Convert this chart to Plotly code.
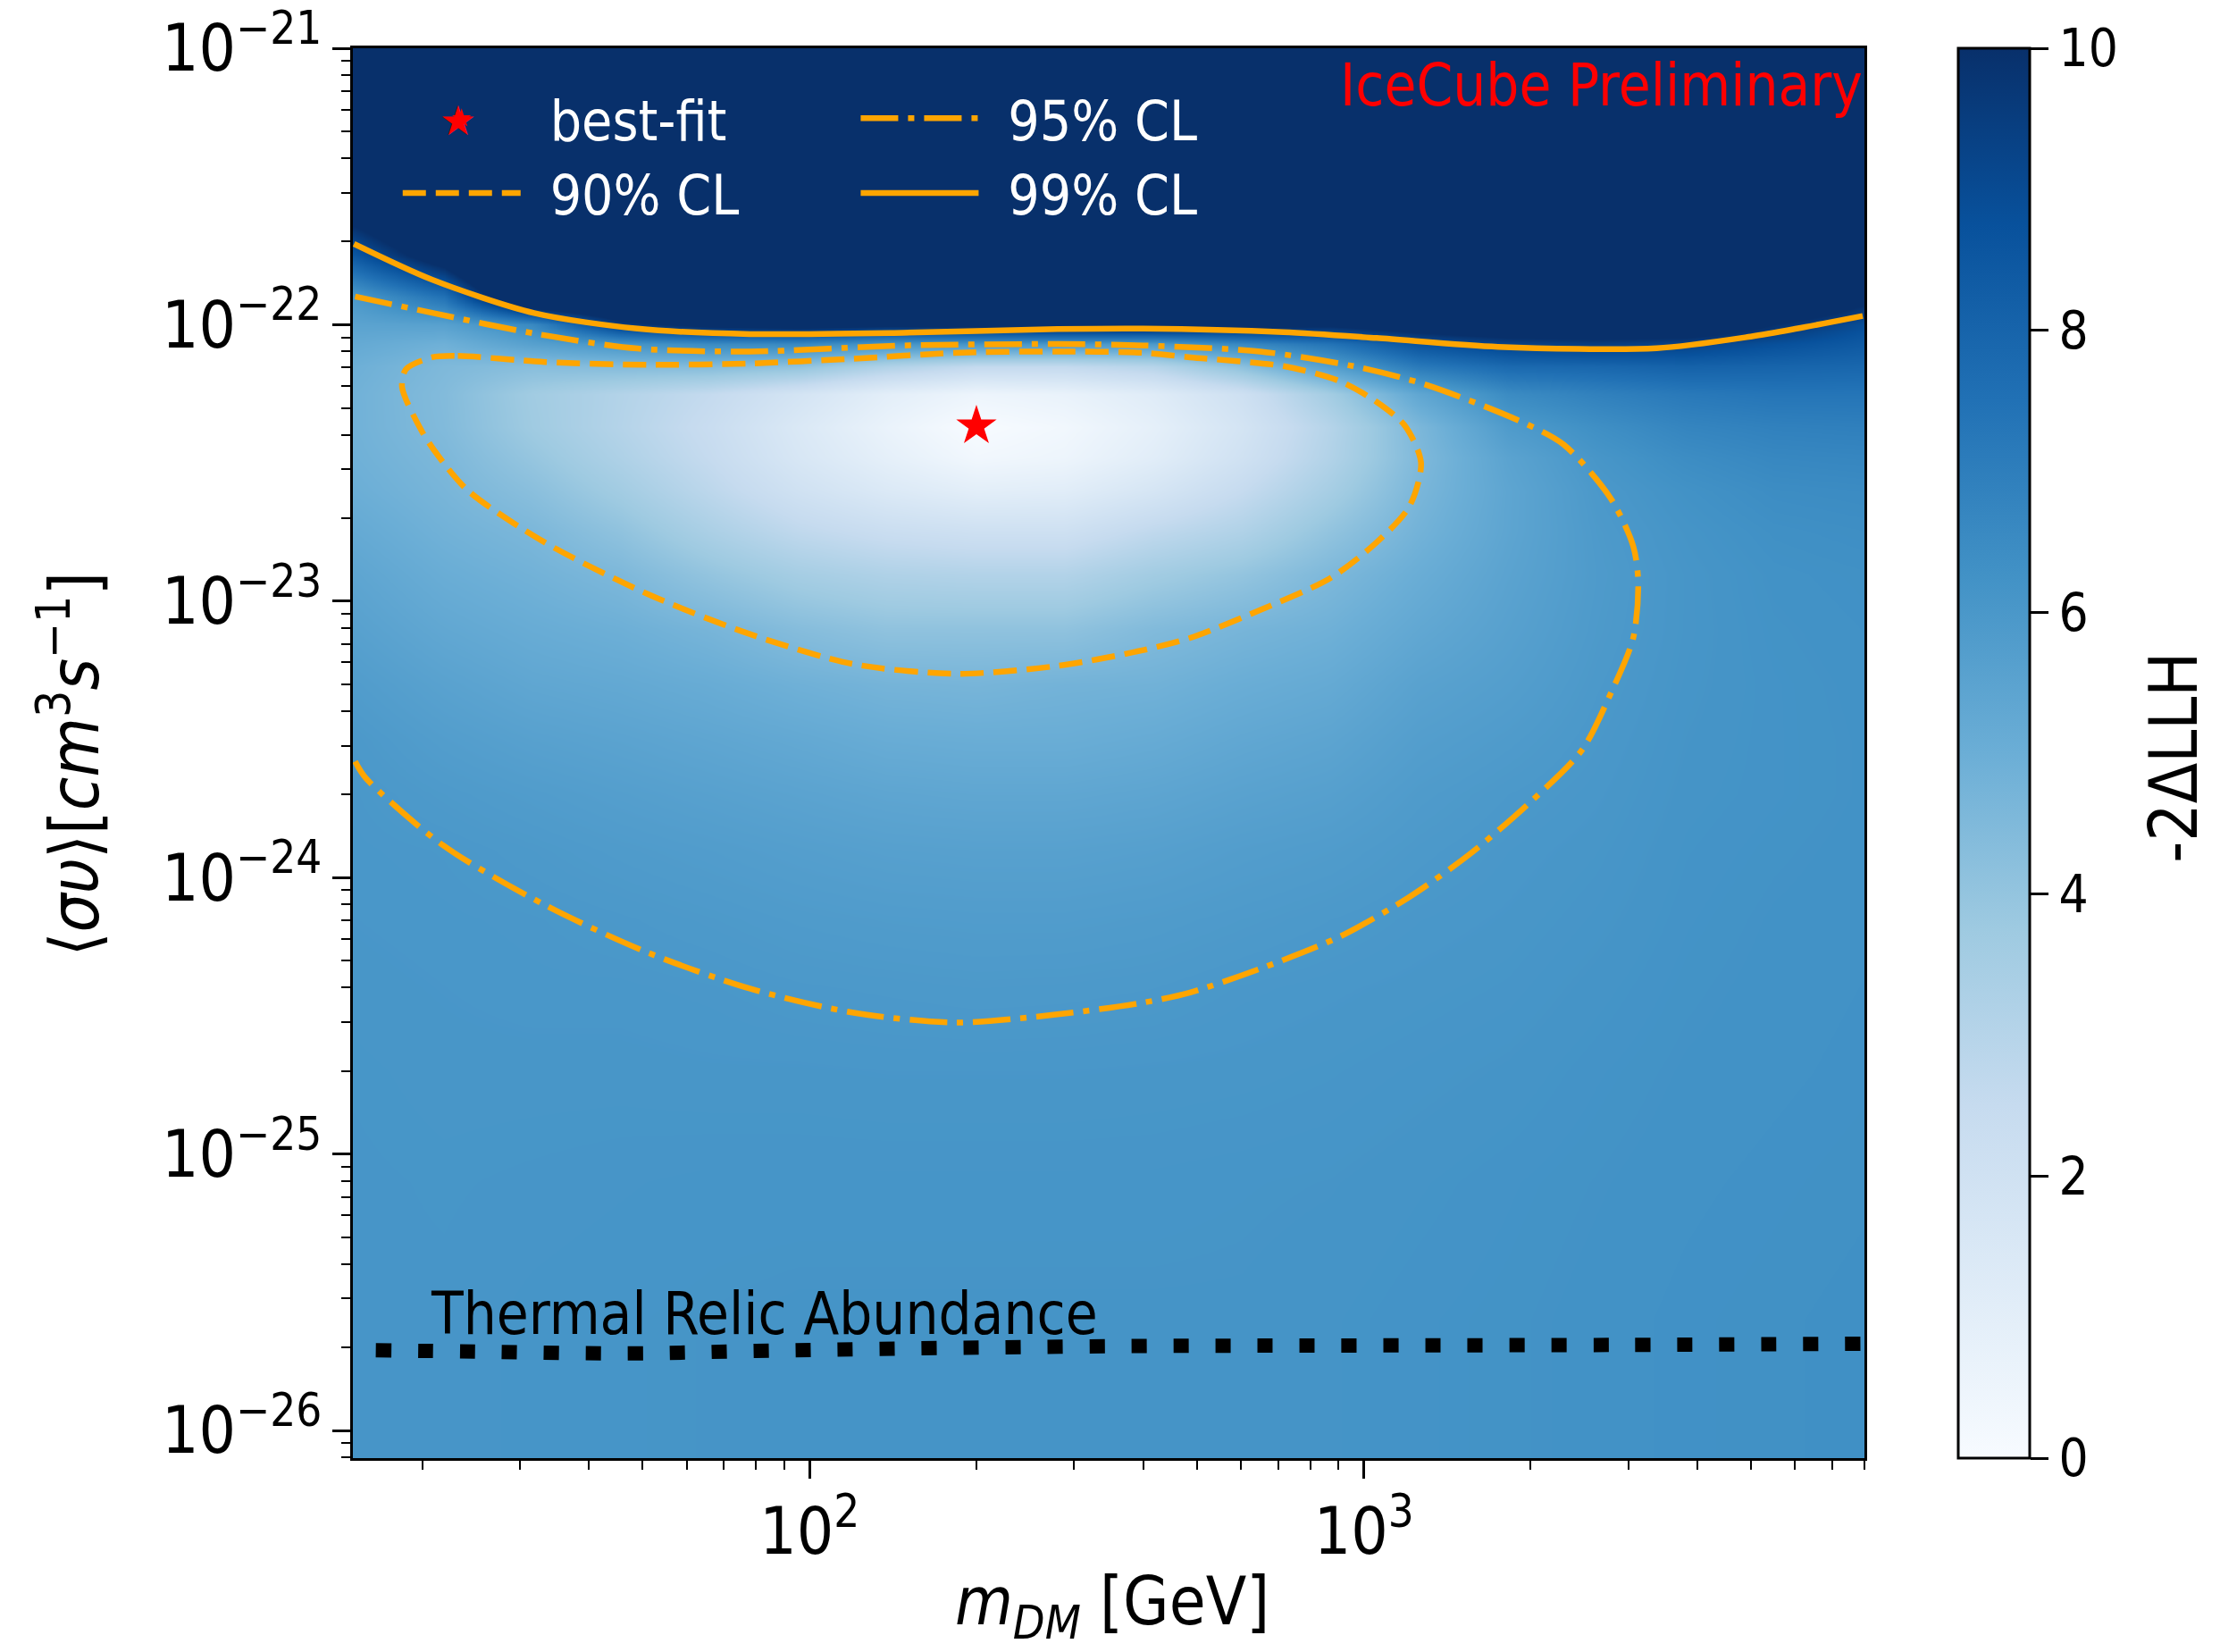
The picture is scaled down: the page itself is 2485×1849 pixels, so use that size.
import numpy as np
import plotly.graph_objects as go

mass_grid = [15.1, 21.9, 31.6, 45.7, 66.1, 95.5, 138, 200, 288, 417, 603, 871,
             1259, 1820, 2630, 3802, 5495, 7943]
xsec_grid = [7.94e-27, 2.51e-26, 7.94e-26, 2.0e-25, 3.98e-25, 7.08e-25, 1.26e-24,
             2.0e-24, 3.16e-24, 5.01e-24, 7.94e-24, 1.26e-23, 1.78e-23, 2.51e-23,
             3.31e-23, 4.27e-23, 5.62e-23, 7.08e-23, 8.51e-23, 1.0e-22, 1.26e-22,
             1.78e-22, 3.16e-22, 1.0e-21]

# one list per mass column, values from lowest to highest cross-section
llh_columns = [
    [6.10, 6.10, 6.10, 6.09, 6.07, 6.05, 6.03, 6.01, 5.95, 5.80, 5.60, 5.40, 5.20, 5.00, 4.90, 4.85, 4.85, 4.95, 5.20, 5.50, 5.98, 8.5, 12, 20],
    [6.10, 6.10, 6.09, 6.07, 6.05, 6.03, 6.00, 5.90, 5.75, 5.55, 5.30, 5.05, 4.85, 4.68, 4.57, 4.45, 4.42, 4.52, 4.90, 5.60, 7.50, 11, 14, 20],
    [6.12, 6.12, 6.10, 6.07, 6.03, 6.01, 5.93, 5.80, 5.60, 5.35, 5.10, 4.83, 4.60, 4.25, 3.95, 3.70, 3.65, 4.30, 5.60, 6.60, 12.5, 15, 18, 22],
    [6.13, 6.13, 6.11, 6.07, 6.03, 5.97, 5.85, 5.70, 5.50, 5.25, 4.95, 4.55, 4.10, 3.60, 3.25, 3.05, 3.10, 4.40, 6.10, 9.60, 13, 16, 19, 24],
    [6.14, 6.14, 6.12, 6.06, 6.01, 5.92, 5.78, 5.60, 5.38, 5.10, 4.70, 4.00, 3.35, 2.80, 2.50, 2.35, 2.55, 4.40, 6.50, 10.5, 13, 16, 19, 24],
    [6.15, 6.15, 6.12, 6.06, 5.97, 5.86, 5.70, 5.50, 5.25, 4.90, 4.35, 3.50, 2.70, 2.00, 1.60, 1.45, 1.80, 4.10, 6.60, 10.8, 13, 16, 20, 25],
    [6.15, 6.15, 6.12, 6.05, 5.95, 5.82, 5.63, 5.40, 5.10, 4.75, 4.10, 3.20, 2.30, 1.40, 0.90, 0.65, 1.00, 3.20, 6.10, 10.4, 13, 16, 20, 25],
    [6.15, 6.15, 6.12, 6.05, 5.93, 5.80, 5.60, 5.35, 5.05, 4.70, 4.10, 3.10, 2.10, 1.00, 0.30, 0.00, 0.50, 2.60, 6.10, 10.5, 13, 16, 20, 25],
    [6.15, 6.15, 6.12, 6.05, 5.94, 5.80, 5.60, 5.35, 5.05, 4.80, 4.10, 3.10, 2.10, 1.10, 0.50, 0.30, 0.70, 2.60, 6.00, 10.8, 13, 16, 20, 25],
    [6.15, 6.15, 6.12, 6.06, 5.96, 5.84, 5.65, 5.42, 5.15, 4.85, 4.45, 3.60, 2.70, 1.70, 1.10, 0.90, 1.20, 3.00, 5.90, 10.9, 13, 16, 20, 25],
    [6.15, 6.15, 6.13, 6.07, 6.01, 5.90, 5.75, 5.55, 5.32, 5.05, 4.70, 4.00, 3.20, 2.50, 2.00, 1.80, 2.10, 4.20, 6.60, 10.6, 13, 16, 20, 25],
    [6.17, 6.17, 6.14, 6.09, 6.04, 5.96, 5.82, 5.65, 5.45, 5.20, 4.90, 4.55, 4.05, 3.50, 3.15, 3.05, 3.60, 5.70, 7.40, 10.3, 13, 16, 20, 25],
    [6.20, 6.20, 6.17, 6.12, 6.07, 6.02, 5.94, 5.85, 5.72, 5.55, 5.30, 5.05, 4.82, 4.64, 4.52, 4.60, 5.35, 7.20, 8.70, 11.0, 13, 16, 20, 25],
    [6.22, 6.22, 6.20, 6.15, 6.10, 6.06, 6.02, 5.96, 5.85, 5.72, 5.60, 5.50, 5.42, 5.40, 5.50, 5.85, 6.50, 7.80, 9.30, 11.5, 13, 16, 20, 25],
    [6.25, 6.25, 6.23, 6.20, 6.16, 6.12, 6.08, 6.04, 6.00, 5.95, 5.90, 5.87, 5.90, 5.96, 6.08, 6.35, 6.90, 7.90, 9.50, 11.5, 13, 16, 20, 25],
    [6.28, 6.28, 6.26, 6.24, 6.22, 6.20, 6.18, 6.16, 6.14, 6.12, 6.10, 6.10, 6.15, 6.25, 6.45, 6.75, 7.20, 8.10, 9.30, 11.5, 13, 16, 20, 25],
    [6.30, 6.30, 6.28, 6.26, 6.25, 6.24, 6.22, 6.20, 6.20, 6.20, 6.22, 6.25, 6.32, 6.45, 6.65, 6.90, 7.35, 8.00, 8.80, 10.0, 12.5, 15, 19, 24],
    [6.32, 6.32, 6.30, 6.28, 6.27, 6.26, 6.25, 6.24, 6.24, 6.25, 6.27, 6.30, 6.38, 6.50, 6.70, 6.95, 7.35, 7.90, 8.40, 8.90, 10.5, 13, 18, 24],
]

# ---------------- confidence-level contours ----------------
cl90_mass = [20.84, 23.2, 33.3, 51.1, 78.0, 119.4, 183, 280, 400, 486, 716, 904, 1054, 1186,
             1268, 1208, 1054, 869, 650, 486, 400, 280, 183, 119.4, 78.0, 51.1, 33.3, 24.2,
             21.3, 20.0, 18.4, 18.7, 20.84]
cl90_xsec = [7.62e-23, 7.71e-23, 7.33e-23, 7.16e-23, 7.24e-23, 7.53e-23, 7.91e-23, 8.00e-23,
             7.91e-23, 7.62e-23, 7.08e-23, 6.25e-23, 5.26e-23, 4.31e-23, 3.17e-23, 2.20e-23,
             1.63e-23, 1.21e-23, 9.29e-24, 7.36e-24, 6.65e-24, 5.83e-24, 5.46e-24, 5.93e-24,
             7.60e-24, 1.06e-23, 1.63e-23, 2.51e-23, 3.39e-23, 4.10e-23, 5.94e-23, 6.90e-23,
             7.62e-23]

cl95_mass = [15.14, 20.84, 31.9, 48.9, 78.0, 147.9, 280, 400, 650, 957, 1282, 1888, 2291,
             2786, 3062, 3126, 3062, 2786, 2477, 2005, 1556, 1208, 904, 650, 486, 400, 280,
             183, 119.4, 78.0, 51.1, 33.3, 21.8, 15.8, 15.14]
cl95_xsec = [1.265e-22, 1.104e-22, 9.29e-23, 8.20e-23, 8.00e-23, 8.41e-23, 8.51e-23, 8.41e-23,
             8.00e-23, 7.08e-23, 6.10e-23, 4.53e-23, 3.69e-23, 2.36e-23, 1.58e-23, 1.17e-23,
             7.36e-24, 4.62e-24, 2.90e-24, 1.89e-24, 1.22e-24, 8.51e-25, 6.11e-25, 4.68e-25,
             3.84e-25, 3.53e-25, 3.20e-25, 2.99e-25, 3.25e-25, 3.97e-25, 5.35e-25, 7.96e-25,
             1.31e-24, 2.30e-24, 2.63e-24]

cl99_mass = [15.07, 20.84, 31.84, 48.9, 78.0, 147.6, 280, 400, 716, 1054, 1746, 3373, 4989,
             6039, 7943]
cl99_xsec = [1.96e-22, 1.455e-22, 1.102e-22, 9.68e-23, 9.25e-23, 9.35e-23, 9.64e-23, 9.68e-23,
             9.40e-23, 8.95e-23, 8.32e-23, 8.22e-23, 9.06e-23, 9.68e-23, 1.076e-22]

bestfit_mass = [200]
bestfit_xsec = [4.3e-23]

relic_mass = [16.5, 25, 47, 80, 150, 384, 1000, 3000, 8000]
relic_xsec = [1.95e-26, 1.93e-26, 1.90e-26, 1.94e-26, 1.98e-26, 2.02e-26, 2.03e-26, 2.04e-26, 2.06e-26]

cbar_ticks = [0, 2, 4, 6, 8, 10]

# ---------------- styling ----------------
FONT = "DejaVu Sans Condensed, DejaVu Sans, sans-serif"
ORANGE = "rgb(255,165,0)"
blues = ["rgb(247,251,255)", "rgb(222,235,247)", "rgb(198,219,239)", "rgb(158,202,225)",
         "rgb(107,174,214)", "rgb(66,146,198)", "rgb(33,113,181)", "rgb(8,81,156)",
         "rgb(8,48,107)"]
colorscale = [[i / (len(blues) - 1), c] for i, c in enumerate(blues)]

z = np.array(llh_columns).T
GAP = "\u2002"  # space between legend symbol and label

fig = go.Figure()

fig.add_trace(go.Heatmap(
    x=mass_grid, y=xsec_grid, z=z, zmin=0, zmax=10, zsmooth="best",
    colorscale=colorscale, hoverinfo="skip", showscale=True,
    colorbar=dict(
        x=1.062, xanchor="left", xpad=0, y=0.5, yanchor="middle", ypad=0,
        len=1, lenmode="fraction", thickness=80, thicknessmode="pixels",
        outlinewidth=3, outlinecolor="black",
        tickvals=cbar_ticks, ticks="outside", ticklen=20, tickwidth=3,
        tickcolor="black", tickprefix="\u00a0",
        tickfont=dict(family=FONT, size=58, color="black"),
    ),
))

fig.add_trace(go.Scatter(
    x=cl90_mass, y=cl90_xsec, mode="lines", name=GAP + "90% CL",
    line=dict(color=ORANGE, width=6.5, dash="26px,11px", shape="spline", smoothing=0.8),
    legend="legend", legendrank=2, hoverinfo="skip",
))
fig.add_trace(go.Scatter(
    x=cl95_mass, y=cl95_xsec, mode="lines", name=GAP + "95% CL",
    line=dict(color=ORANGE, width=6.5, dash="42px,11px,7px,11px", shape="spline", smoothing=0.8),
    legend="legend2", legendrank=1, hoverinfo="skip",
))
fig.add_trace(go.Scatter(
    x=cl99_mass, y=cl99_xsec, mode="lines", name=GAP + "99% CL",
    line=dict(color=ORANGE, width=6.5, shape="spline", smoothing=0.8),
    legend="legend2", legendrank=2, hoverinfo="skip",
))
fig.add_trace(go.Scatter(
    x=relic_mass, y=relic_xsec, mode="lines", showlegend=False,
    line=dict(color="black", width=16, dash="17px,30px", shape="spline"),
    hoverinfo="skip",
))
fig.add_trace(go.Scatter(
    x=bestfit_mass, y=bestfit_xsec, mode="markers", name=GAP + "best-fit",
    marker=dict(symbol="star", color="red", size=34, line=dict(width=0)),
    legend="legend", legendrank=1, hoverinfo="skip",
))

# enlarged legend glyph for the best-fit star (plotly caps legend marker size)
fig.add_annotation(
    text="★", xref="paper", yref="paper", x=0.0695, y=0.9487,
    xanchor="center", yanchor="middle", showarrow=False,
    font=dict(family="DejaVu Sans", size=46, color="red"),
)
fig.add_annotation(
    text="IceCube Preliminary", xref="paper", yref="paper", x=1.0, y=0.974,
    xanchor="right", yanchor="middle", showarrow=False,
    font=dict(family=FONT, size=65, color="red"),
)
fig.add_annotation(
    text="Thermal Relic Abundance", xref="x", yref="y", x=np.log10(20.6), y=-25.578,
    xanchor="left", yanchor="middle", showarrow=False,
    font=dict(family=FONT, size=65, color="black"),
)
fig.add_annotation(
    text="⟨<i>συ</i>⟩[<i>cm</i><sup>3</sup><i>s</i><sup>−1</sup>]",
    xref="paper", yref="paper", x=-0.187, y=0.492, textangle=-90,
    xanchor="center", yanchor="middle", showarrow=False,
    font=dict(family=FONT, size=76, color="black"),
)
fig.add_annotation(
    text="<i>m</i><sub><i>DM</i></sub> [GeV]",
    xref="paper", yref="paper", x=0.5025, y=-0.105,
    xanchor="center", yanchor="middle", showarrow=False,
    font=dict(family=FONT, size=74, color="black"),
)
fig.add_annotation(
    text="-2ΔLLH", xref="paper", yref="paper", x=1.2045, y=0.497, textangle=-90,
    xanchor="center", yanchor="middle", showarrow=False,
    font=dict(family=FONT, size=74, color="black"),
)

axis_common = dict(
    type="log", showgrid=False, zeroline=False, showline=True, linecolor="black",
    linewidth=3, mirror=True, ticks="outside", ticklen=20, tickwidth=3, tickcolor="black",
    dtick=1, exponentformat="power", ticklabeloverflow="allow", automargin=False,
    tickfont=dict(family=FONT, size=58, color="black"),
    minor=dict(ticks="outside", ticklen=10, tickwidth=2, tickcolor="black", dtick="D1", showgrid=False),
)

legend_common = dict(
    xanchor="left", yanchor="top", bgcolor="rgba(0,0,0,0)", borderwidth=0,
    font=dict(family=FONT, size=62, color="white"), itemwidth=132, tracegroupgap=0,
)

fig.update_layout(
    width=2485, height=1849,
    margin=dict(l=395, r=398, t=54, b=217, autoexpand=False),
    paper_bgcolor="white", plot_bgcolor="white",
    font=dict(family=FONT, color="black"),
    xaxis=dict(axis_common, range=[np.log10(15), np.log10(8000)]),
    yaxis=dict(axis_common, range=[-26.1, -21.0]),
    legend=dict(legend_common, x=0.03, y=0.980),
    legend2=dict(legend_common, x=0.333, y=0.980),
)

fig.write_html("out.html")
